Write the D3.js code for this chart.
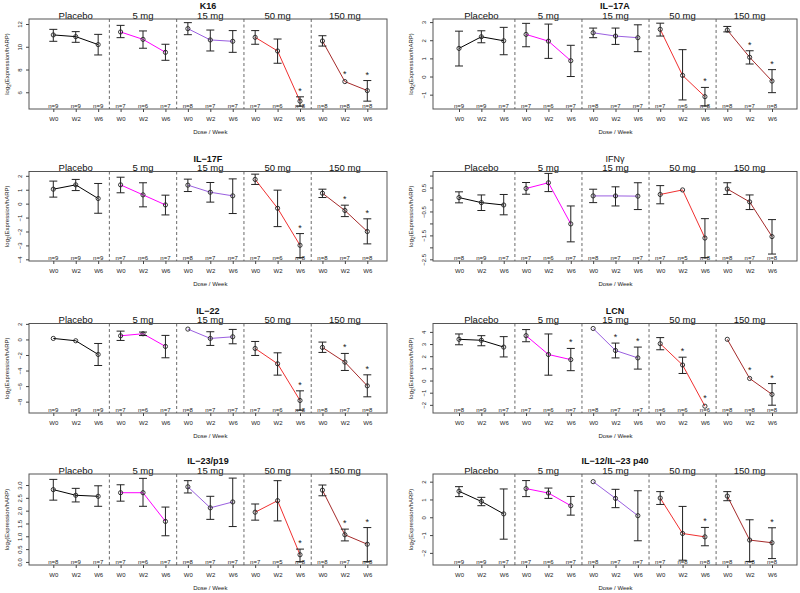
<!DOCTYPE html>
<html><head><meta charset="utf-8">
<script src="https://cdn.jsdelivr.net/npm/d3@7/dist/d3.min.js"></script>
<style>
body{margin:0;background:#fff}
text{font-family:"Liberation Sans",Arial,Helvetica,sans-serif}
</style>
</head><body>
<svg id="c" width="800" height="593"></svg>
<script>
// ---------- data ----------
const doses = ["Placebo", "5 mg", "15 mg", "50 mg", "150 mg"];
const weeks = ["W0", "W2", "W6"];
const panelTitles = ["K16", "IL\u221217A", "IL\u221217F", "IFN\u03b3", "IL\u221222", "LCN", "IL\u221223/p19", "IL\u221212/IL\u221223 p40"];

const k16Mean = [11.04,10.89,10.19, 11.30,10.65,9.51, 11.59,10.60,10.48, 10.83,9.63,5.22, 10.51,6.94,6.15];
const k16Hi   = [11.53,11.33,11.09, 11.88,11.39,10.22, 12.12,11.47,11.42, 11.42,10.68,5.60, 10.97,null,7.03];
const k16Lo   = [10.48,10.39,9.28, 10.80,9.87,8.81, 11.06,9.63,9.51, 10.22,8.55,4.78, 10.06,null,5.22];
const k16N    = [9,9,9, 7,6,7, 8,7,7, 7,6,8, 8,8,8];
const k16Sig  = [11,13,14];
const k16Lim  = [4.53, 12.44];
const k16Ticks = [6,8,10,12];

const il17aMean = [1.55,2.19,1.97, 2.32,1.95,0.87, 2.41,2.23,2.14, 2.60,0.06,-1.11, 2.56,1.06,-0.25];
const il17aHi   = [2.50,2.52,2.71, 2.93,2.89,1.72, 2.67,2.67,2.85, 2.94,1.48,-0.60, 2.76,1.42,0.38];
const il17aLo   = [0.58,1.86,1.20, 1.64,1.00,0.00, 2.14,1.77,1.37, 2.23,-1.29,-1.62, 2.46,0.69,-0.89];
const il17aN    = [9,9,7, 7,6,7, 8,7,7, 7,6,8, 8,7,8];
const il17aSig  = [11,13,14];
const il17aLim  = [-1.79, 3.17];
const il17aTicks = [-1,0,1,2,3];

const il17fMean = [1.04,1.35,0.37, 1.35,0.63,-0.09, 1.33,0.82,0.56, 1.74,-0.33,-2.99, 0.75,-0.49,-2.00];
const il17fHi   = [1.62,1.74,1.45, 1.90,1.50,0.61, 1.76,1.52,1.78, 2.12,0.97,-2.15, 1.04,-0.11,-1.09];
const il17fLo   = [0.47,0.94,-0.69, 0.78,-0.23,-0.81, 0.87,0.11,-0.71, 1.38,-1.65,-3.88, 0.44,-0.93,-2.89];
const il17fN    = [9,9,9, 7,6,7, 8,7,7, 7,6,8, 8,7,8];
const il17fSig  = [11,13,14];
const il17fLim  = [-4.12, 2.31];
const il17fTicks = [-4,-3,-2,-1,0,1,2];

const ifngMean = [0.08,-0.13,-0.23, 0.46,0.70,-1.02, 0.15,0.15,0.14, 0.21,0.40,-1.61, 0.44,-0.10,-1.55];
const ifngHi   = [0.32,0.19,0.21, 0.71,1.09,-0.27, 0.43,0.53,0.70, 0.58,null,-0.80, 0.70,0.19,-0.84];
const ifngLo   = [-0.14,-0.46,-0.64, 0.22,0.33,-1.77, -0.13,-0.27,-0.42, -0.18,null,-2.43, 0.21,-0.42,-2.28];
const ifngN    = [8,9,7, 7,6,7, 8,7,7, 7,5,8, 8,7,8];
const ifngSig  = [];
const ifngLim  = [-2.57, 1.17];
const ifngTicks = [-2.5,-2,-1.5,-1,-0.5,0,0.5,1];
const ifngTickLabels = [-2.5,-1.5,-0.5,0.5];

const il22Mean = [0.13,-0.17,-1.93, 0.47,0.73,-0.90, 1.33,0.13,0.34, -1.16,-3.13,-7.85, -1.03,-2.92,-5.97];
const il22Hi   = [null,null,-0.52, 1.07,0.95,0.52, null,0.99,1.29, -0.26,-1.72,-6.61, -0.34,-1.80,-4.55];
const il22Lo   = [null,null,-3.35, -0.13,0.50,-2.36, null,-0.77,-0.56, -2.06,-4.59,-9.10, -1.67,-3.99,-7.38];
const il22N    = [9,9,9, 7,6,7, 8,7,7, 7,6,8, 8,7,8];
const il22Sig  = [11,13,14];
const il22Lim  = [-9.46, 2.05];
const il22Ticks = [-8,-6,-4,-2,0,2];

const lcnMean = [3.39,3.31,2.75, 3.69,2.14,1.72, 4.28,2.47,1.86, 3.03,1.28,-2.11, 3.39,0.17,-1.14];
const lcnHi   = [3.83,3.69,3.61, 4.19,3.83,2.64, null,3.08,2.75, 3.53,1.92,null, null,null,-0.25];
const lcnLo   = [2.94,2.86,1.94, 3.19,0.44,0.81, null,1.86,0.94, 2.53,0.58,null, null,null,-2.03];
const lcnN    = [8,9,7, 7,6,7, 8,7,7, 6,6,6, 8,8,8];
const lcnSig  = [5,7,8,10,11,13,14];
const lcnLim  = [-2.67, 4.69];
const lcnTicks = [-2,-1,0,1,2,3,4];

const il23Mean = [2.82,2.60,2.56, 2.70,2.70,1.58, 2.93,2.11,2.34, 1.94,2.39,0.28, 2.80,1.06,0.69];
const il23Hi   = [3.22,2.87,2.97, 3.01,3.26,2.14, 3.17,2.56,3.27, 2.26,3.17,0.50, 3.00,1.28,1.34];
const il23Lo   = [2.41,2.34,2.17, 2.37,2.17,1.02, 2.69,1.66,1.38, 1.63,1.60,0.01, 2.58,0.82,0.01];
const il23N    = [8,9,7, 7,6,7, 8,7,7, 7,5,8, 8,7,8];
const il23Sig  = [11,13,14];
const il23Lim  = [-0.12, 3.43];
const il23Ticks = [0,0.5,1,1.5,2,2.5,3];

const p40Mean = [1.46,0.89,0.19, 1.61,1.36,0.65, 2.00,1.06,0.09, 1.08,-0.91,-1.10, 1.19,-1.28,-1.43];
const p40Hi   = [1.72,1.12,1.59, 2.06,1.64,1.17, null,1.57,1.49, 1.44,0.61,-0.57, 1.44,-0.14,-0.59];
const p40Lo   = [1.16,0.65,-1.23, 1.16,1.06,0.12, null,0.54,-1.32, 0.72,-2.41,-1.60, 0.93,-2.48,-2.32];
const p40N    = [9,9,7, 7,6,7, 8,7,7, 7,8,8, 8,8,8];
const p40Sig  = [11,14];
const p40Lim  = [-2.68, 2.43];
const p40Ticks = [-2,-1,0,1,2];

// ---------- styles / layout ----------
const doseColors = ["#000000", "#FF00FF", "#9A5FE0", "#F03030", "#A52A2A"];
const FONT_SMALL = 6, FONT_GROUP = 9.5, FONT_TITLE = 9;

const panels = [
  {title: panelTitles[0], mean:k16Mean, hi:k16Hi, lo:k16Lo, n:k16N, sig:k16Sig, lim:k16Lim, ticks:k16Ticks, fmt:d=>d, bold:true},
  {title: panelTitles[1], mean:il17aMean, hi:il17aHi, lo:il17aLo, n:il17aN, sig:il17aSig, lim:il17aLim, ticks:il17aTicks, fmt:d=>d, bold:true},
  {title: panelTitles[2], mean:il17fMean, hi:il17fHi, lo:il17fLo, n:il17fN, sig:il17fSig, lim:il17fLim, ticks:il17fTicks, fmt:d=>d, bold:true},
  {title: panelTitles[3], mean:ifngMean, hi:ifngHi, lo:ifngLo, n:ifngN, sig:ifngSig, lim:ifngLim, ticks:ifngTicks, labels:ifngTickLabels, fmt:d=>d.toFixed(1), bold:false},
  {title: panelTitles[4], mean:il22Mean, hi:il22Hi, lo:il22Lo, n:il22N, sig:il22Sig, lim:il22Lim, ticks:il22Ticks, fmt:d=>d, bold:true},
  {title: panelTitles[5], mean:lcnMean, hi:lcnHi, lo:lcnLo, n:lcnN, sig:lcnSig, lim:lcnLim, ticks:lcnTicks, fmt:d=>d, bold:true},
  {title: panelTitles[6], mean:il23Mean, hi:il23Hi, lo:il23Lo, n:il23N, sig:il23Sig, lim:il23Lim, ticks:il23Ticks, fmt:d=>d.toFixed(1), bold:true},
  {title: panelTitles[7], mean:p40Mean, hi:p40Hi, lo:p40Lo, n:p40N, sig:p40Sig, lim:p40Lim, ticks:p40Ticks, fmt:d=>d, bold:true}
];

const cols = [{l:29, r:387, x1:53.3, x15:367.3}, {l:433, r:797, x1:459, x15:772}];
const rowTop = [19, 171.5, 323.5, 474];
const rowBot = [109, 261, 413, 565];
const minus = s => String(s).replace("-", "\u2212");

const svg = d3.select("#c");
const defs = svg.append("defs");

panels.forEach((p, i) => {
  const col = cols[i % 2], row = Math.floor(i / 2);
  const top = rowTop[row], bot = rowBot[row];
  const x = d3.scaleLinear().domain([1, 15]).range([col.x1, col.x15]);
  const y = d3.scaleLinear().domain(p.lim).range([bot, top]);
  const g = svg.append("g");
  const idx = d3.range(15);

  defs.append("clipPath").attr("id", "clip" + i)
    .append("rect").attr("x", col.l).attr("y", top).attr("width", col.r - col.l).attr("height", bot - top);

  // title
  g.append("text").attr("x", (col.l + col.r) / 2).attr("y", top - 10)
    .attr("text-anchor", "middle").attr("font-size", FONT_TITLE)
    .attr("font-weight", p.bold ? "bold" : "normal").attr("fill", "#111").text(p.title);

  // group labels
  doses.forEach((d, k) => {
    g.append("text").attr("x", x(k * 3 + 2)).attr("y", top - 0.5)
      .attr("text-anchor", "middle").attr("font-size", FONT_GROUP).attr("fill", "#111").text(d);
  });

  // dividers
  [3.5, 6.5, 9.5, 12.5].forEach(v => {
    g.append("line").attr("x1", x(v)).attr("x2", x(v)).attr("y1", top).attr("y2", bot)
      .attr("stroke", "#444").attr("stroke-width", 0.8).attr("stroke-dasharray", "3,2.5");
  });

  const pg = g.append("g").attr("clip-path", `url(#clip${i})`);

  // lines per dose
  doses.forEach((d, k) => {
    const pts = [0, 1, 2].map(j => k * 3 + j);
    pg.append("path")
      .attr("d", d3.line().x(j => x(j + 1)).y(j => y(p.mean[j]))(pts))
      .attr("fill", "none").attr("stroke", doseColors[k]).attr("stroke-width", 1);
  });

  // error bars
  idx.forEach(j => {
    if (p.hi[j] == null || p.lo[j] == null) return;
    const cx = x(j + 1), yh = y(p.hi[j]), yl = y(p.lo[j]);
    pg.append("line").attr("x1", cx).attr("x2", cx).attr("y1", yh).attr("y2", yl)
      .attr("stroke", "#222").attr("stroke-width", 1);
    [yh, yl].forEach(yy => pg.append("line").attr("x1", cx - 4).attr("x2", cx + 4)
      .attr("y1", yy).attr("y2", yy).attr("stroke", "#222").attr("stroke-width", 1));
  });

  // points
  pg.selectAll("circle.pt").data(idx).enter().append("circle")
    .attr("cx", j => x(j + 1)).attr("cy", j => y(p.mean[j])).attr("r", 2.1)
    .attr("fill", "none").attr("stroke", "#222").attr("stroke-width", 0.9);

  // significance stars
  p.sig.forEach(j => {
    const base = p.hi[j] != null ? y(p.hi[j]) - 3 : y(p.mean[j]) - 5;
    g.append("text").attr("x", x(j + 1)).attr("y", base).attr("text-anchor", "middle")
      .attr("font-size", 9).attr("fill", "#222").text("*");
  });

  // n labels
  idx.forEach(j => {
    g.append("text").attr("x", x(j + 1)).attr("y", bot - 0.8).attr("text-anchor", "middle")
      .attr("font-size", FONT_SMALL).attr("fill", "#222").text("n=" + p.n[j]);
  });

  // box
  g.append("rect").attr("x", col.l).attr("y", top).attr("width", col.r - col.l).attr("height", bot - top)
    .attr("fill", "none").attr("stroke", "#555").attr("stroke-width", 1);

  // x axis
  const xa = g.append("g").attr("transform", `translate(0,${bot})`)
    .call(d3.axisBottom(x).tickValues(d3.range(1, 16)).tickSize(3).tickPadding(2)
      .tickFormat(v => weeks[(v - 1) % 3]));
  xa.select(".domain").remove();
  xa.selectAll("line").attr("stroke", "#444");
  xa.selectAll("text").attr("font-size", FONT_SMALL).attr("fill", "#222")
    .attr("font-family", null).attr("dy", null).attr("y", 11.5);
  g.append("text").attr("x", (x(1) + x(15)) / 2).attr("y", bot + 25).attr("text-anchor", "middle")
    .attr("font-size", FONT_SMALL).attr("fill", "#222").text("Dose / Week");

  // y axis
  const labelSet = p.labels || p.ticks;
  const ya = g.append("g").attr("transform", `translate(${col.l},0)`)
    .call(d3.axisLeft(y).tickValues(p.ticks).tickSize(3)
      .tickFormat(v => labelSet.includes(v) ? minus(p.fmt(v)) : ""));
  ya.select(".domain").remove();
  ya.selectAll("line").attr("stroke", "#444");
  ya.selectAll("text").attr("font-size", FONT_SMALL).attr("fill", "#222").attr("font-family", null)
    .attr("transform", "rotate(-90)").attr("x", 0).attr("y", -7).attr("dy", null)
    .attr("text-anchor", "middle");

  const yl = g.append("text").attr("transform", `translate(${col.l - 20},${(top + bot) / 2}) rotate(-90)`)
    .attr("text-anchor", "middle").attr("font-size", FONT_SMALL).attr("fill", "#222");
  yl.append("tspan").text("log");
  yl.append("tspan").attr("font-size", 4.5).attr("baseline-shift", "-1.5").text("2");
  yl.append("tspan").attr("baseline-shift", "0").text("(Expression/hARP)");
});
</script>
</body></html>
